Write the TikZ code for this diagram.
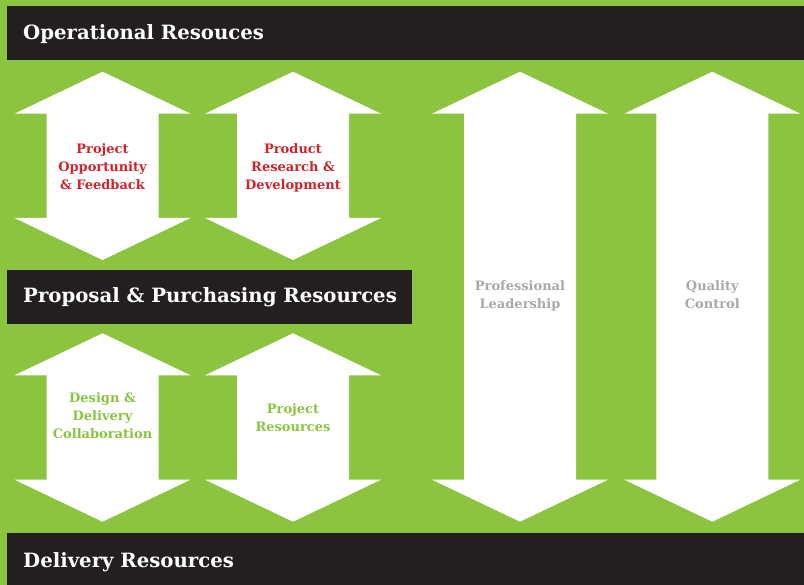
\documentclass[tikz,border=0pt]{standalone}
\usepackage{fontspec}
\newfontfamily\slab{DejaVu Serif}
\definecolor{bggreen}{RGB}{139,197,63}
\definecolor{barblack}{RGB}{35,31,32}
\definecolor{lblred}{RGB}{210,35,42}
\definecolor{lblgray}{RGB}{167,169,172}
\tikzset{
  bar/.style={fill=barblack},
  bartext/.style={anchor=base west, inner sep=0pt, text=white, font=\slab\bfseries\fontsize{19.7}{24}\selectfont},
  arrowlbl/.style={anchor=base, inner sep=0pt, align=center, font=\slab\bfseries\fontsize{13}{18}\selectfont},
  whitearrow/.style={fill=white}
}
\newcommand{\dblarrow}[3]{%
  \fill[whitearrow] (#1,#2) -- (#1+88,#2+42) -- (#1+56,#2+42) -- (#1+56,#3-42)
    -- (#1+88,#3-42) -- (#1,#3) -- (#1-88,#3-42) -- (#1-56,#3-42)
    -- (#1-56,#2+42) -- (#1-88,#2+42) -- cycle;}
\begin{document}
\begin{tikzpicture}[x=1pt,y=-1pt]
\useasboundingbox (0,0) rectangle (804,585);
\fill[bggreen] (0,0) rectangle (804,585);
% bars
\fill[bar] (7,6) rectangle (804,60);
\fill[bar] (7,270) rectangle (412,324);
\fill[bar] (7,532.7) rectangle (804,585);
\node[bartext] (op) at (23,39.5) {Operational Resouces};
\node[bartext] (pp) at (23,303) {Proposal \& Purchasing Resources};
\node[bartext] (dr) at (23,567) {Delivery Resources};
% arrows
\dblarrow{102.5}{71.7}{260}
\dblarrow{293}{71.7}{260}
\dblarrow{102.5}{333.3}{521.7}
\dblarrow{293}{333.3}{521.7}
\dblarrow{520}{71.7}{521.7}
\dblarrow{712.3}{71.7}{521.7}
% labels (anchor at baseline of last line)
\node[arrowlbl, text=lblred] (pof) at (102.5,189.3) {Project\\Opportunity\\\& Feedback};
\node[arrowlbl, text=lblred] (prd) at (293,189.3) {Product\\Research \&\\Development};
\node[arrowlbl, text=bggreen] (ddc) at (102.5,438.5) {Design \&\\Delivery\\Collaboration};
\node[arrowlbl, text=bggreen] (prr) at (293,432) {Project\\Resources};
\node[arrowlbl, text=lblgray] (pl) at (520,308.7) {Professional\\Leadership};
\node[arrowlbl, text=lblgray] (qc) at (712.3,308.7) {Quality\\Control};
\end{tikzpicture}
\end{document}
